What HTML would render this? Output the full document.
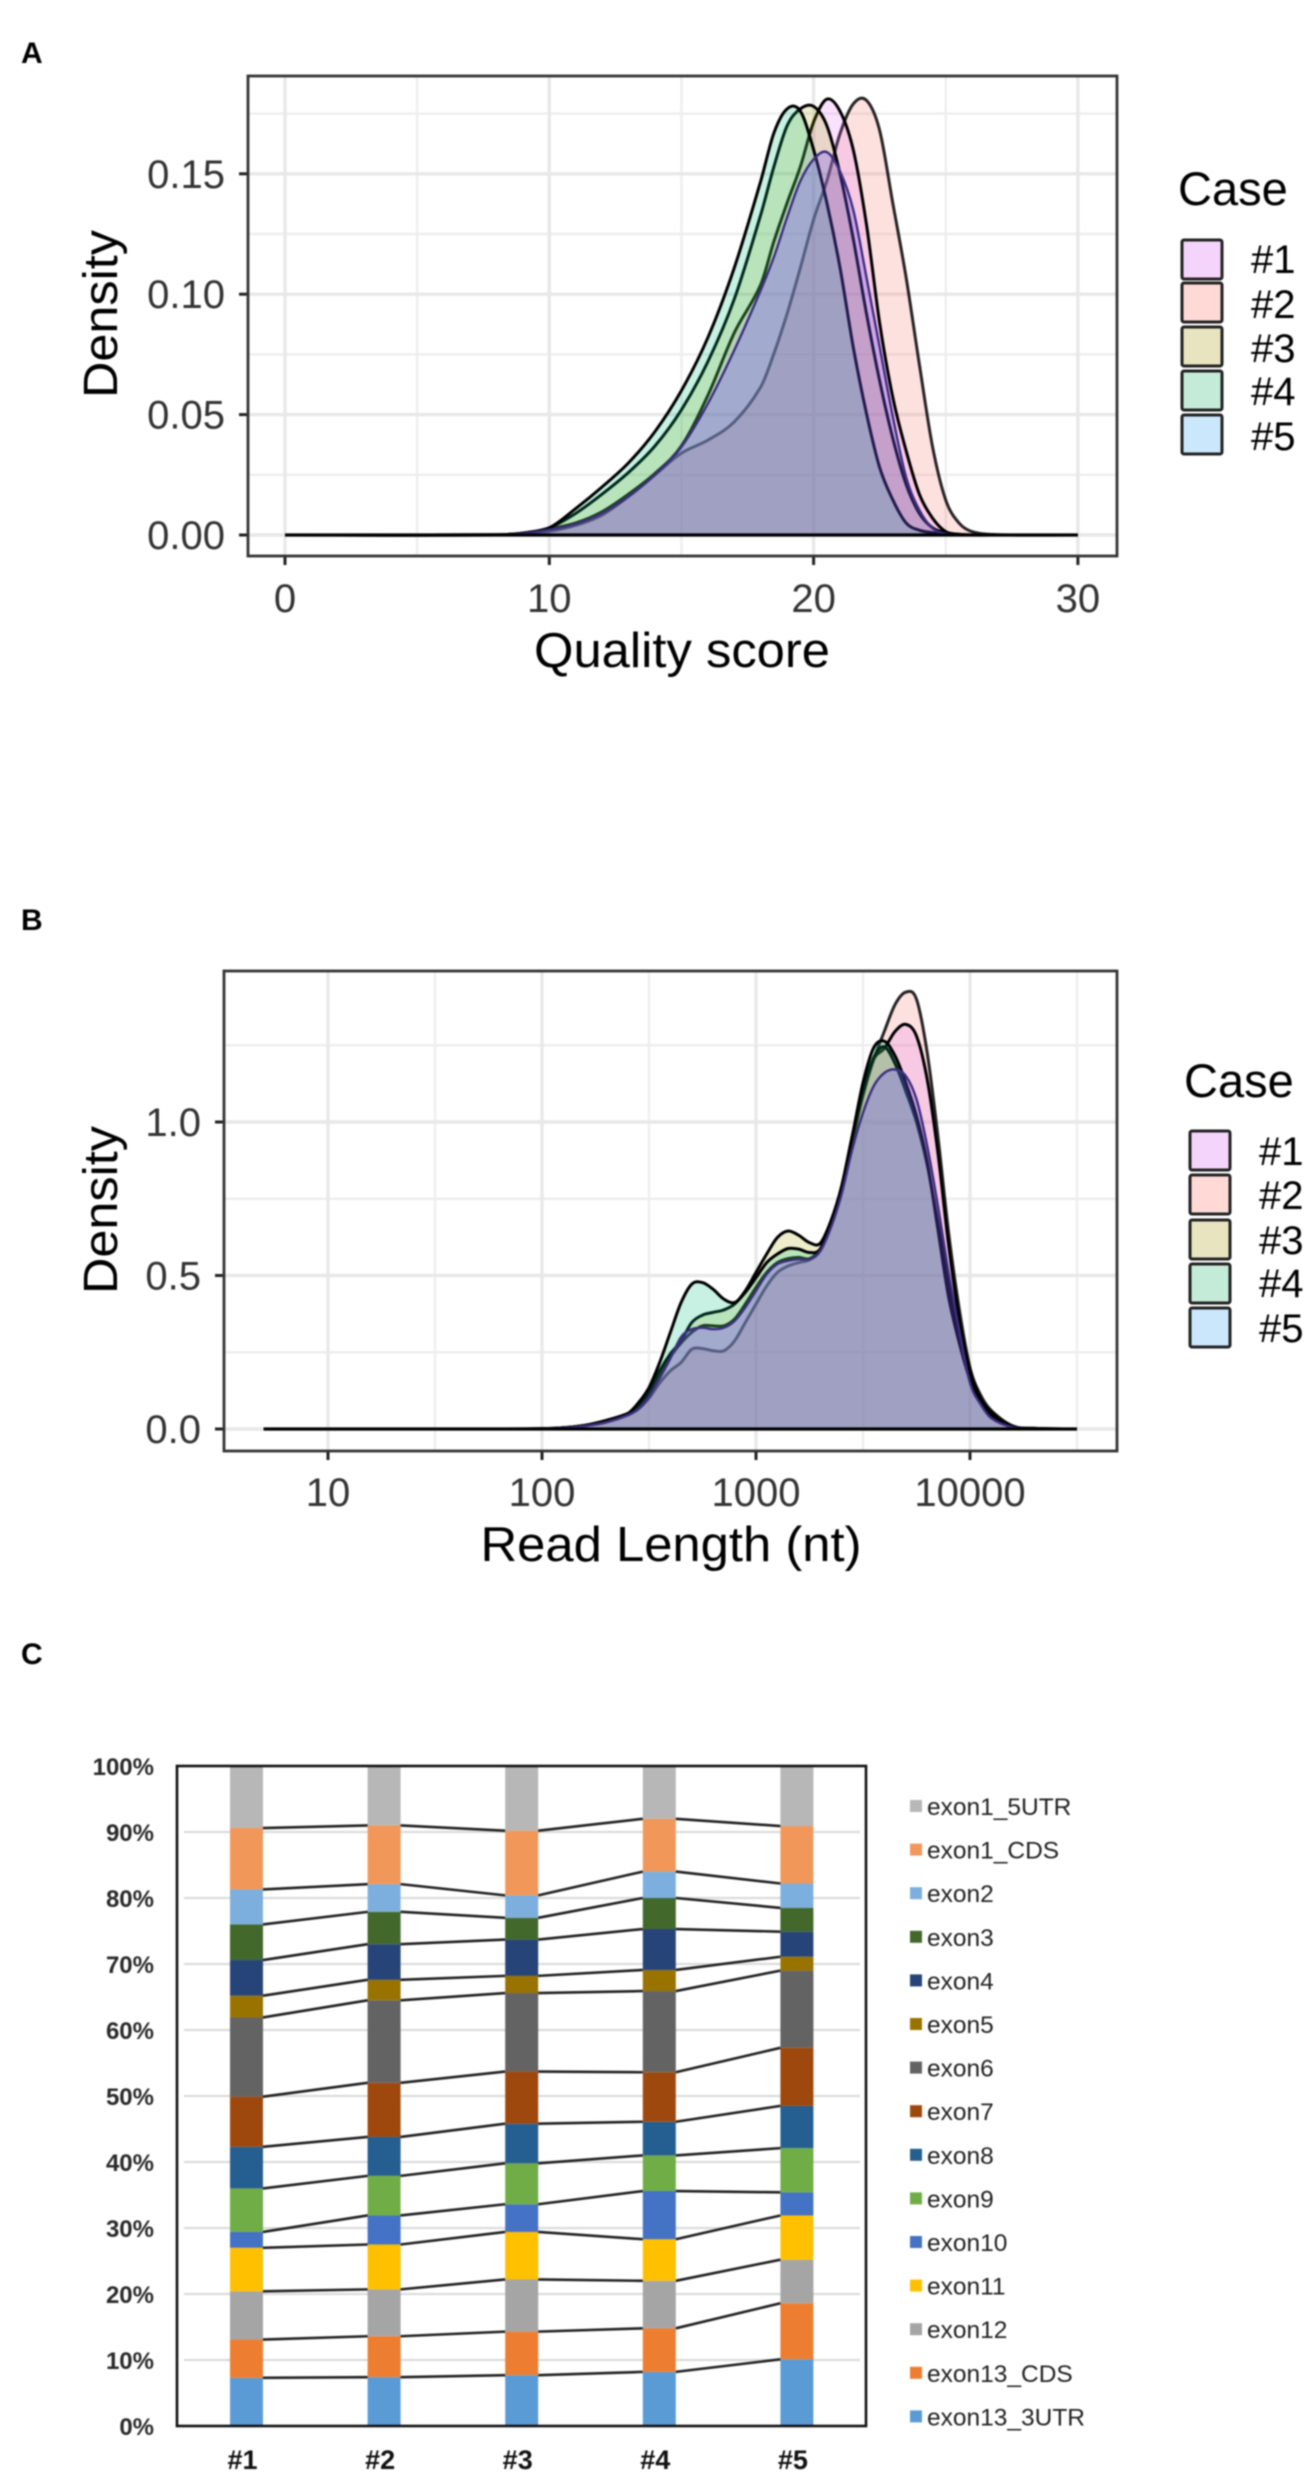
<!DOCTYPE html>
<html lang="en">
<head>
<meta charset="utf-8">
<title>Quality score, read length and exon coverage</title>
<style>
html,body{margin:0;padding:0;background:#fff;}
svg{display:block;filter:blur(0.7px);}
text{font-family:"Liberation Sans",sans-serif;}
</style>
</head>
<body>
<svg id="figure" xmlns="http://www.w3.org/2000/svg" width="1312" height="2480" viewBox="0 0 1312 2480">
<rect x="0" y="0" width="1312" height="2480" fill="#ffffff"/>
<text x="21" y="63" font-size="30" font-weight="700" fill="#000">A</text>
<text x="21" y="930" font-size="30" font-weight="700" fill="#000">B</text>
<text x="21" y="1664" font-size="30" font-weight="700" fill="#000">C</text>
</svg>
<script>
// ---------- Panel A data: density of quality score ----------
const qualityGrid = [0,8,9,10,11,12,13,14,15,16,17,18,18.5,19,19.5,20,20.5,21,21.5,22,22.5,23,23.5,24,24.5,25,25.5,26,27,30];
const qualityCase1 = [0,0,.0006,.0025,.005,.0097,.017,.0256,.037,.058,.084,.104,.122,.138,.153,.1715,.181,.176,.16,.129,.088,.057,.035,.017,.007,.0014,.0003,0,0,0];
const qualityCase2 = [0,0,.0004,.0015,.004,.0083,.016,.025,.034,.0394,.047,.0615,.0754,.092,.111,.131,.147,.1667,.179,.1805,.168,.1376,.107,.071,.0367,.0145,.005,.0014,.0001,0];
const qualityCase3 = [0,.0001,.0008,.003,.009,.017,.026,.037,.052,.072,.098,.133,.153,.170,.177,.178,.170,.150,.123,.092,.064,.040,.021,.009,.003,.001,.0002,0,0,0];
const qualityCase4 = [0,.0001,.0008,.003,.011,.020,.030,.043,.060,.082,.111,.147,.167,.177,.176,.160,.138,.111,.078,.0505,.028,.0145,.005,.002,.001,.0003,0,0,0,0];
const qualityCase5 = [0,0,.0006,.0022,.0045,.009,.016,.025,.0366,.0546,.0768,.1017,.1155,.132,.147,.156,.159,.151,.135,.107,.078,.049,.024,.0104,.0028,.0005,0,0,0,0];
const qualityXTicks = [0,10,20,30];
const qualityXMinor = [5,15,25];
const qualityYTicks = [0,0.05,0.10,0.15];
const qualityYLabels = ["0.00","0.05","0.10","0.15"];
const qualityYMinor = [0.025,0.075,0.125,0.175];

// ---------- Panel B data: density of log10 read length ----------
const lengthGrid = [0.7,1.8,2.0,2.1,2.2,2.3,2.4,2.45,2.5,2.55,2.6,2.65,2.7,2.75,2.8,2.85,2.9,2.95,3.0,3.05,3.1,3.15,3.2,3.25,3.3,3.35,3.4,3.45,3.5,3.55,3.6,3.65,3.7,3.75,3.8,3.85,3.9,3.95,4.0,4.05,4.1,4.2,4.3,4.5];
const lengthCase1 = [0,0,.001,.004,.012,.028,.05,.07,.11,.175,.235,.28,.315,.336,.336,.336,.358,.407,.461,.51,.542,.555,.559,.555,.586,.667,.775,.938,1.095,1.204,1.24,1.295,1.318,1.28,1.139,.90,.60,.36,.19,.10,.055,.008,.002,0];
const lengthCase2 = [0,0,.001,.003,.01,.022,.045,.065,.10,.15,.19,.217,.26,.262,.255,.255,.287,.347,.407,.466,.51,.531,.542,.551,.58,.66,.77,.933,1.085,1.204,1.296,1.383,1.423,1.40,1.226,.954,.64,.39,.20,.11,.06,.01,.002,0];
const lengthCase3 = [0,0,.001,.004,.012,.028,.05,.075,.12,.19,.245,.287,.347,.371,.38,.388,.407,.45,.51,.57,.624,.645,.631,.607,.605,.678,.79,.955,1.10,1.21,1.245,1.19,1.10,1.00,.86,.67,.47,.31,.17,.095,.05,.008,.002,0];
const lengthCase4 = [0,0,.001,.004,.012,.026,.05,.085,.135,.217,.315,.412,.472,.477,.455,.423,.412,.445,.493,.542,.57,.588,.586,.575,.586,.672,.79,.955,1.128,1.242,1.263,1.215,1.128,1.02,.87,.65,.43,.28,.16,.09,.045,.007,.001,0];
const lengthCase5 = [0,0,.001,.003,.01,.022,.045,.065,.105,.165,.23,.30,.325,.33,.325,.33,.352,.396,.45,.504,.537,.548,.553,.553,.58,.656,.765,.911,1.03,1.117,1.16,1.171,1.15,1.074,.922,.727,.51,.32,.15,.08,.035,.005,.001,0];
const lengthXTicks = [1,2,3,4];
const lengthXLabels = ["10","100","1000","10000"];
const lengthXMinor = [1.5,2.5,3.5,4.5];
const lengthYTicks = [0,0.5,1.0];
const lengthYLabels = ["0.0","0.5","1.0"];
const lengthYMinor = [0.25,0.75,1.25];

// ---------- Panel C data: exon share (%) per case ----------
const caseNames = ["#1","#2","#3","#4","#5"];
const exon13_3UTR = [7.3,7.4,7.7,8.2,10.1];
const exon13_CDS = [5.8,6.2,6.6,6.6,8.5];
const exon12 = [7.3,7.1,7.9,7.2,6.6];
const exon11 = [6.6,6.8,7.2,6.3,6.7];
const exon10 = [2.4,4.4,4.2,7.3,3.5];
const exon9 = [6.6,6.0,6.2,5.4,6.7];
const exon8 = [6.3,5.9,6.0,5.1,6.4];
const exon7 = [7.6,8.2,7.9,7.5,8.8];
const exon6 = [12.0,12.5,11.9,12.3,11.7];
const exon5 = [3.3,3.1,2.6,3.2,2.1];
const exon4 = [5.4,5.4,5.5,6.2,3.8];
const exon3 = [5.4,4.9,3.3,4.7,3.6];
const exon2 = [5.3,4.2,3.4,4.0,3.7];
const exon1_CDS = [9.3,8.9,9.8,8.0,8.7];
const exon1_5UTR = [9.4,9.0,9.8,8.0,9.1];
const exonNames = ["exon13_3UTR","exon13_CDS","exon12","exon11","exon10","exon9","exon8","exon7","exon6","exon5","exon4","exon3","exon2","exon1_CDS","exon1_5UTR"];
const exonValues = [exon13_3UTR,exon13_CDS,exon12,exon11,exon10,exon9,exon8,exon7,exon6,exon5,exon4,exon3,exon2,exon1_CDS,exon1_5UTR];
const exonColors = ["#5b9bd5","#ed7d31","#a5a5a5","#ffc000","#4472c4","#70ad47","#255e91","#9e480e","#636363","#997300","#264478","#43682b","#7cafdd","#f1975a","#b7b7b7"];
const percentTicks = [0,10,20,30,40,50,60,70,80,90,100];

const svg = document.getElementById('figure');
const NS = 'http://www.w3.org/2000/svg';
function mk(tag, attrs){
  const e = document.createElementNS(NS, tag);
  for (const k in attrs) e.setAttribute(k, attrs[k]);
  svg.appendChild(e);
  return e;
}
function label(x, y, str, size, fill, anchor, weight){
  const e = mk('text', {x:x, y:y, 'font-size':size, fill:fill, 'text-anchor':anchor||'start', 'font-weight':weight||400});
  e.textContent = str;
  return e;
}
// Smooth Hermite path through the data, in pixel space
function curve(xs, ys){
  let d = 'M' + xs[0].toFixed(2) + ' ' + ys[0].toFixed(2);
  const n = xs.length;
  const m = xs.map(function(_, i){
    if (i === 0 || i === n-1) return 0;
    return (ys[i+1]-ys[i-1])/(xs[i+1]-xs[i-1]);
  });
  for (let i = 0; i < n-1; i++){
    const h = (xs[i+1]-xs[i])/3;
    d += 'C' + (xs[i]+h).toFixed(2) + ' ' + (ys[i]+m[i]*h).toFixed(2) + ' ' +
         (xs[i+1]-h).toFixed(2) + ' ' + (ys[i+1]-m[i+1]*h).toFixed(2) + ' ' +
         xs[i+1].toFixed(2) + ' ' + ys[i+1].toFixed(2);
  }
  return d;
}

const drawOrder = [1,0,2,3,4];
const plotFills = ['#e76bf3','#f8766d','#a3a500','#00bf7d','#7455ff'];
const plotAlpha = [0.2,0.22,0.2,0.22,0.3];
const keyFills = ['#f5d4fb','#ffd9d6','#e8e4bf','#c4ead8','#cbe7fc'];
const keyLabels = ['#1','#2','#3','#4','#5'];

function densityPanel(cfg){
  const bg = mk('rect', {x:cfg.left, y:cfg.top, width:cfg.right-cfg.left, height:cfg.bottom-cfg.top, fill:'#fff'});
  
  
  cfg.xMinor.forEach(function(v){
    const g = mk('line', {x1:cfg.x(v), x2:cfg.x(v), y1:cfg.top, y2:cfg.bottom, stroke:'#eeeeee', 'stroke-width':2.4});
    
    
  });
  cfg.yMinor.forEach(function(v){
    const g = mk('line', {x1:cfg.left, x2:cfg.right, y1:cfg.y(v), y2:cfg.y(v), stroke:'#eeeeee', 'stroke-width':2.4});
    
    
  });
  cfg.xTicks.forEach(function(v, i){
    const g = mk('line', {x1:cfg.x(v), x2:cfg.x(v), y1:cfg.top, y2:cfg.bottom, stroke:'#e8e8e8', 'stroke-width':3.4});
    
    
    const t = mk('line', {x1:cfg.x(v), x2:cfg.x(v), y1:cfg.bottom, y2:cfg.bottom+9, stroke:'#222', 'stroke-width':3});
    
    
    const l = label(cfg.x(v), cfg.xLabelY, cfg.xLabels[i], cfg.tickSize, '#333', 'middle');
    
    
  });
  cfg.yTicks.forEach(function(v, i){
    const g = mk('line', {x1:cfg.left, x2:cfg.right, y1:cfg.y(v), y2:cfg.y(v), stroke:'#e8e8e8', 'stroke-width':3.4});
    
    
    const t = mk('line', {x1:cfg.left-9, x2:cfg.left, y1:cfg.y(v), y2:cfg.y(v), stroke:'#222', 'stroke-width':3});
    
    
    const l = label(cfg.left-23, cfg.y(v)+14, cfg.yLabels[i], cfg.tickSize, '#333', 'end');
    
    
  });
  drawOrder.forEach(function(s){
    const vals = cfg.series[s];
    const xs = cfg.grid.map(cfg.x);
    const ys = vals.map(cfg.y);
    const d = curve(xs, ys);
    const area = mk('path', {d:d + 'L' + xs[xs.length-1] + ' ' + cfg.y(0) + 'L' + xs[0] + ' ' + cfg.y(0) + 'Z', fill:plotFills[s], 'fill-opacity':plotAlpha[s], stroke:'none'});
    
    
    const line = mk('path', {d:d, fill:'none', stroke:s===4?'#3d2f80':'#000', 'stroke-width':s===4?2.4:3, 'stroke-opacity':s===1?0.85:1});
    
    
  });
  const base = mk('line', {x1:cfg.x(cfg.grid[0]), x2:cfg.x(cfg.grid[cfg.grid.length-1]), y1:cfg.y(0), y2:cfg.y(0), stroke:'#000', 'stroke-width':3.2});
  
  
  const box = mk('rect', {x:cfg.left, y:cfg.top, width:cfg.right-cfg.left, height:cfg.bottom-cfg.top, fill:'none', stroke:'#333', 'stroke-width':2.8});
  
  

  const xt = label(cfg.xTitleX, cfg.xTitleY, cfg.xTitle, cfg.titleSize, '#000', 'middle');
  xt.setAttribute('textLength', cfg.xTitleLen);
  xt.setAttribute('lengthAdjust', 'spacingAndGlyphs');
  
  
  const yt = label(0, 0, 'Density', 48, '#000', 'middle');
  yt.setAttribute('transform', 'translate(' + cfg.yTitleX + ',' + cfg.yTitleY + ') rotate(-90)');
  yt.setAttribute('textLength', '168');
  yt.setAttribute('lengthAdjust', 'spacingAndGlyphs');
  
  

  const lt = label(cfg.legendTitleX, cfg.legendTitleY, 'Case', 47, '#000', 'start');
  
  
  keyLabels.forEach(function(name, i){
    const k = mk('rect', {x:cfg.keyX, y:cfg.keyY[i], width:40, height:cfg.keyH, fill:keyFills[i], stroke:'#222', 'stroke-width':3, rx:2});
    
    
    const l = label(cfg.keyX+69, cfg.keyBase[i], name, 40, '#000', 'start');
    
    
  });
}

densityPanel({
  id:'quality', left:248, right:1117, top:76, bottom:556,
  x:function(v){return 285 + v*26.43;}, y:function(v){return 535 - v*2408;},
  grid:qualityGrid, series:[qualityCase1,qualityCase2,qualityCase3,qualityCase4,qualityCase5],
  xTicks:qualityXTicks, xLabels:qualityXTicks.map(String), xMinor:qualityXMinor,
  yTicks:qualityYTicks, yLabels:qualityYLabels, yMinor:qualityYMinor,
  xLabelY:612, tickSize:40, titleSize:49,
  xTitle:'Quality score', xTitleLen:296, xTitleX:682, xTitleY:667,
  yTitleX:117, yTitleY:314,
  legendTitleX:1178, legendTitleY:205,
  keyX:1182, keyY:[240,283,327,371,415], keyH:39, keyBase:[273,318,362,405,450]
});

densityPanel({
  id:'length', left:224, right:1117, top:971, bottom:1451,
  x:function(v){return 328 + (v-1)*214;}, y:function(v){return 1429 - v*307;},
  grid:lengthGrid, series:[lengthCase1,lengthCase2,lengthCase3,lengthCase4,lengthCase5],
  xTicks:lengthXTicks, xLabels:lengthXLabels, xMinor:lengthXMinor,
  yTicks:lengthYTicks, yLabels:lengthYLabels, yMinor:lengthYMinor,
  xLabelY:1506, tickSize:40, titleSize:49,
  xTitle:'Read Length (nt)', xTitleLen:381, xTitleX:671, xTitleY:1561,
  yTitleX:117, yTitleY:1210,
  legendTitleX:1184, legendTitleY:1097,
  keyX:1190, keyY:[1131,1175,1220,1264,1308], keyH:39, keyBase:[1165,1209,1254,1297,1342]
});

// ---------- Panel C: stacked bars ----------
const barWidth = 33;
function xBar(i){ return 246.5 + i*137.6; }
function yPct(p){ return 2426 - p*6.6; }

percentTicks.forEach(function(p){
  if (p > 0 && p < 100){
    const g = mk('line', {x1:184, x2:860, y1:yPct(p), y2:yPct(p), stroke:'#dcdcdc', 'stroke-width':2.2});
    
    
  }
  const l = label(154, yPct(p)+9, p + '%', 24, '#2a2a2a', 'end', 700);
  
  
});

const cumulative = caseNames.map(function(){ return 0; });
exonValues.forEach(function(vals, s){
  const tops = [];
  vals.forEach(function(v, i){
    const bottom = cumulative[i];
    const top = bottom + v;
    cumulative[i] = top;
    tops.push(top);
    const r = mk('rect', {x:xBar(i)-barWidth/2, y:yPct(top), width:barWidth, height:yPct(bottom)-yPct(top), fill:exonColors[s]});
    
    
  });
  if (s < exonValues.length - 1){
    for (let i = 0; i < tops.length - 1; i++){
      const c = mk('line', {x1:xBar(i)+barWidth/2, y1:yPct(tops[i]), x2:xBar(i+1)-barWidth/2, y2:yPct(tops[i+1]), stroke:'#222', 'stroke-width':2.6});
      
      
    }
  }
});

const exonBox = mk('rect', {x:177, y:1766, width:689, height:660, fill:'none', stroke:'#111', 'stroke-width':2.6});



caseNames.forEach(function(name, i){
  const l = label(xBar(i)-4, 2469, name, 27, '#111', 'middle', 700);
  
  
});

exonNames.slice().reverse().forEach(function(name, r){
  const s = exonNames.length - 1 - r;
  const cy = 1806 + r*43.6;
  const k = mk('rect', {x:910, y:cy-6, width:12, height:12, fill:exonColors[s]});
  
  
  const l = label(927, cy+9, name, 24.5, '#222', 'start');
  
  
});
</script>
</body>
</html>
